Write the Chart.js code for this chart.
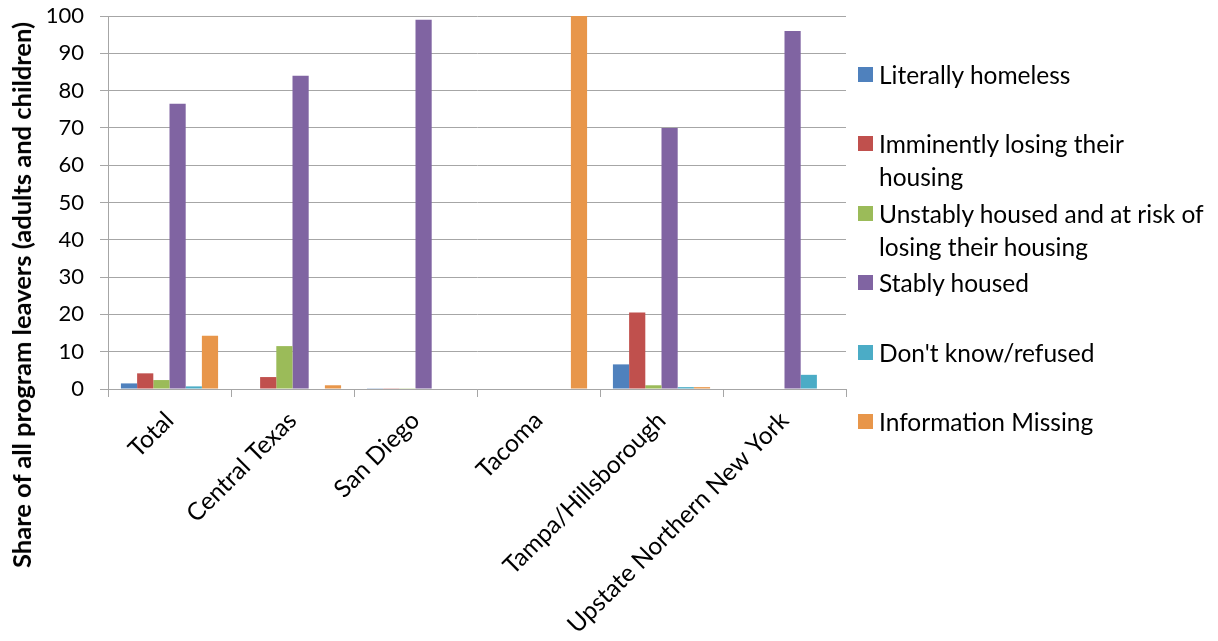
<!DOCTYPE html>
<html>
<head>
<meta charset="utf-8">
<script src="https://cdn.jsdelivr.net/npm/chart.js@4.4.0/dist/chart.umd.min.js"></script>
<style>
  html, body { margin: 0; padding: 0; background: #fff; }
  #wrap { position: relative; width: 1218px; height: 641px; overflow: hidden; font-family: Lato, "Open Sans", sans-serif; }
  #c { position: absolute; left: 0; top: 0; }
  #ytitle { position: absolute; left: 21px; top: 295px; transform: translate(-50%, -50%) rotate(-90deg); white-space: nowrap; font-weight: bold; font-size: 25.5px; color: #000; }
  .lg { position: absolute; left: 858px; font-size: 24.5px; line-height: 33px; color: #000; }
  .lg .sw { position: absolute; left: 0; top: 9px; width: 15px; height: 15px; }
  .lg .tx { margin-left: 21px; }
</style>
</head>
<body>
<div id="wrap">
  <canvas id="c" width="1218" height="641"></canvas>
  <div id="ytitle"></div>
  <div id="legend"></div>
</div>
<script>
const categories = ["Total", "Central Texas", "San Diego", "Tacoma", "Tampa/Hillsborough", "Upstate Northern New York"];
const seriesNames = ["Literally homeless", "Imminently losing their housing", "Unstably housed and at risk of losing their housing", "Stably housed", "Don't know/refused", "Information Missing"];
const literallyHomeless = [1.5, 0, 0.2, 0, 6.6, 0];
const imminentlyLosing = [4.2, 3.2, 0.2, 0, 20.5, 0];
const unstablyHoused = [2.4, 11.5, 0.2, 0, 1.0, 0];
const stablyHoused = [76.5, 84.0, 99.0, 0, 70.0, 96.0];
const dontKnow = [0.7, 0, 0, 0, 0.5, 3.8];
const infoMissing = [14.3, 1.0, 0, 100, 0.5, 0];
const yTicks = [0, 10, 20, 30, 40, 50, 60, 70, 80, 90, 100];
const yTitle = "Share of all program leavers (adults and children)";
const colors = ["#4F81BD", "#C0504D", "#9BBB59", "#8064A2", "#4BACC6", "#E8964A"];
const seriesValues = [literallyHomeless, imminentlyLosing, unstablyHoused, stablyHoused, dontKnow, infoMissing];

document.getElementById('ytitle').textContent = yTitle;

const legendTops = [58, 127, 197, 266, 336, 405];
const legendWidths = [360, 300, 360, 360, 360, 360];
const legendEl = document.getElementById('legend');
seriesNames.forEach((n, i) => {
  const d = document.createElement('div');
  d.className = 'lg';
  d.style.top = legendTops[i] + 'px';
  d.style.width = legendWidths[i] + 'px';
  d.innerHTML = '<span class="sw" style="background:' + colors[i] + '"></span><div class="tx"></div>';
  d.querySelector('.tx').textContent = n;
  legendEl.appendChild(d);
});

const gridColor = '#A6A6A6';
new Chart(document.getElementById('c'), {
  type: 'bar',
  data: {
    labels: categories,
    datasets: seriesNames.map((n, i) => ({
      label: n,
      data: seriesValues[i],
      backgroundColor: colors[i],
      borderWidth: 0,
      categoryPercentage: 0.79,
      barPercentage: 1.0
    }))
  },
  options: {
    responsive: false,
    animation: false,
    layout: { padding: { top: 16, right: 372, left: 0, bottom: 0 } },
    plugins: { legend: { display: false }, tooltip: { enabled: false } },
    scales: {
      x: {
        afterFit: (s) => { s.height = 252; s.paddingTop = 0; },
        grid: { display: true, drawOnChartArea: false, drawTicks: true, tickLength: 8, color: gridColor, offset: true },
        border: { color: gridColor, width: 1 },
        ticks: { maxRotation: 45, minRotation: 45, autoSkip: false, padding: 9, color: '#000', font: { family: 'Lato', size: 24.5 } }
      },
      y: {
        min: 0, max: 100,
        afterFit: (s) => { s.width = 108; s.paddingTop = 0; s.paddingBottom = 0; },
        afterBuildTicks: (s) => { s.ticks = yTicks.map(v => ({ value: v })); },
        grid: { color: gridColor, lineWidth: 1, tickLength: 8 },
        border: { color: gridColor, width: 1 },
        ticks: { padding: 16, color: '#000', font: { family: 'Lato', size: 22 } }
      }
    }
  }
});
</script>
</body>
</html>
